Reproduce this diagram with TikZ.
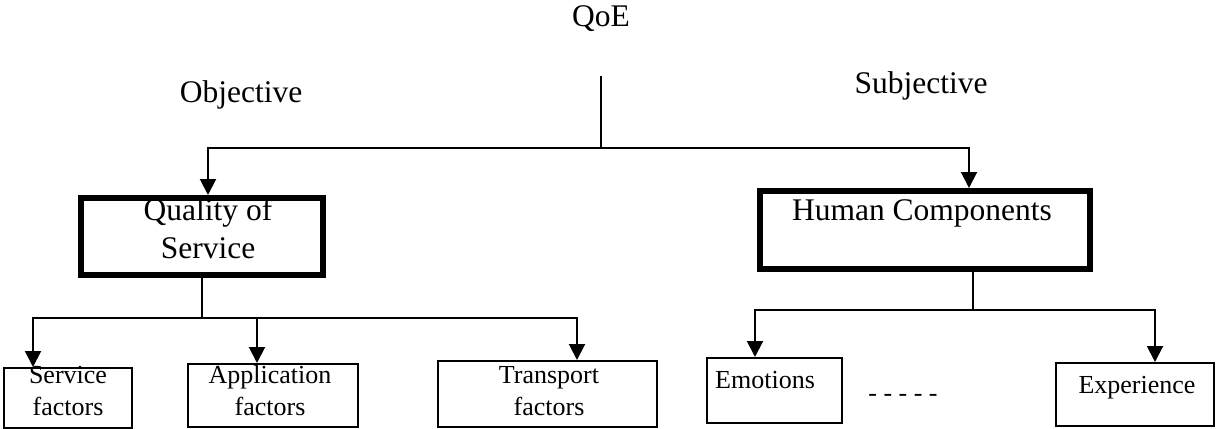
\documentclass[tikz,border=0pt]{standalone}
\usepackage{fontspec}
\setmainfont{Liberation Serif}
\usetikzlibrary{arrows.meta}
\begin{document}
\begin{tikzpicture}[x=1pt,y=-1pt,
  bigtxt/.style={font=\fontsize{31.5}{37}\selectfont, inner sep=0pt, anchor=base},
  smalltxt/.style={font=\fontsize{26}{31}\selectfont, inner sep=0pt, anchor=base},
  mainbox/.style={draw, line width=6pt, inner sep=0pt},
  subbox/.style={draw, line width=2pt, inner sep=0pt},
  conn/.style={line width=2pt},
  arr/.style={line width=2pt, -{Triangle[length=16pt,width=16pt]}}]
\useasboundingbox (0,0) rectangle (1217,428);

% boxes
\node[mainbox, minimum width=242pt, minimum height=77pt] (qos) at (202,236.5) {};
\node[mainbox, minimum width=330pt, minimum height=78pt] (hc) at (925,230) {};
\node[subbox, minimum width=128pt, minimum height=60pt] (sf) at (68,398) {};
\node[subbox, minimum width=170pt, minimum height=63pt] (af) at (273,395.5) {};
\node[subbox, minimum width=219pt, minimum height=66pt] (tf) at (547.5,394) {};
\node[subbox, minimum width=135pt, minimum height=65pt] (emo) at (774.5,390.5) {};
\node[subbox, minimum width=158pt, minimum height=63pt] (exp) at (1135,394.5) {};

% texts
\node[bigtxt] (qoe) at (601,27) {QoE};
\node[bigtxt] (obj) at (241,102) {Objective};
\node[bigtxt] (subj) at (921,93) {Subjective};
\node[bigtxt] (qos1) at (208,220) {Quality of};
\node[bigtxt] (qos2) at (208,258) {Service};
\node[bigtxt] (hc1) at (922,220) {Human Components};
\node[smalltxt] (sf1) at (68,383) {Service};
\node[smalltxt] (sf2) at (68,415) {factors};
\node[smalltxt] (af1) at (270,383) {Application};
\node[smalltxt] (af2) at (270,415) {factors};
\node[smalltxt] (tf1) at (549,383) {Transport};
\node[smalltxt] (tf2) at (549,415) {factors};
\node[smalltxt, anchor=base west] (emo1) at (715,388) {Emotions};
\node[smalltxt] (exp1) at (1137,393) {Experience};
\node[smalltxt] (dots) at (903,401) {- - - - -};

% connectors
\coordinate (qtop) at (601,76);
\coordinate (qjoin) at (601,148);
\draw[conn] (qtop) -- (qjoin);
\draw[arr] (qjoin) -| ([xshift=6pt]qos.north);
\draw[arr] (qjoin) -| ([xshift=44pt]hc.north);

\coordinate (sjoin) at (202,318);
\draw[conn] (qos.south) -- (sjoin);
\draw[arr] (sjoin) -| ([xshift=-35pt]sf.north);
\draw[arr] (sjoin) -| ([xshift=-16pt]af.north);
\draw[arr] (sjoin) -| ([xshift=29.5pt]tf.north);

\coordinate (hjoin) at (973,310);
\draw[conn] ([xshift=48pt]hc.south) -- (hjoin);
\draw[arr] (hjoin) -| ([xshift=-19.5pt]emo.north);
\draw[arr] (hjoin) -| ([xshift=20pt]exp.north);
\end{tikzpicture}
\end{document}
